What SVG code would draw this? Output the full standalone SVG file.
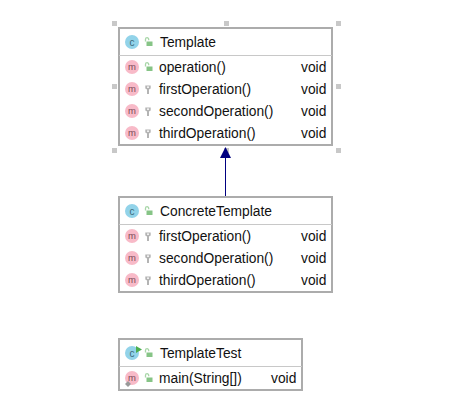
<svg xmlns="http://www.w3.org/2000/svg" width="456" height="412" viewBox="0 0 456 412">
<style>
text{font-family:"Liberation Sans",Arial,sans-serif;font-size:13.8px;fill:#111}
.box{fill:#fff;stroke:#acacac;stroke-width:2}
.sep{stroke:#c8c8c8;stroke-width:1}
.h{fill:#c8c8c8}
.ic{text-anchor:middle}
.cc{fill:#92d3e9}
.mm{fill:#f8bac8}
</style>
<defs>
<g id="lock"><rect x="-1.500" y="-0.500" width="6" height="4.500" fill="#86c486"/><path d="M-2.500 -0.500v-2.200a1.600 1.600 0 0 1 3.200 0v1" fill="none" stroke="#a8d6a8" stroke-width="1.300"/></g>
<g id="key"><path d="M-2.700 -3.500h5.400v3l-1.700 1v4.500h-2v-4.500l-1.700-1z" fill="#b4b4b4"/><rect x="-1" y="-2.500" width="2" height="1.300" fill="#fff"/></g>
<g id="c"><circle r="7" class="cc"/><text class="ic" y="3.500" style="font-size:10px;fill:#3c6a7a">c</text></g>
<g id="m"><circle r="7" class="mm"/><text class="ic" y="3" style="font-size:9.500px;fill:#7a4a55">m</text></g>
</defs>
<g id="handles">
<rect class="h" x="112" y="21" width="5" height="5"/><rect class="h" x="224" y="21" width="5" height="5"/><rect class="h" x="336" y="21" width="5" height="5"/>
<rect class="h" x="112" y="84" width="5" height="5"/><rect class="h" x="336" y="84" width="5" height="5"/>
<rect class="h" x="112" y="148" width="5" height="5"/><rect class="h" x="224" y="148" width="5" height="5"/><rect class="h" x="336" y="148" width="5" height="5"/>
</g>
<g id="connectors">
<path d="M225.500 197V156" stroke="#000080" stroke-width="1" fill="none"/>
<path d="M225.500 147L231 158H220Z" fill="#000080"/>
</g>
<g id="template">
<rect class="box" x="119" y="28" width="213" height="117"/>
<path class="sep" d="M119 55.500H332"/>
<use href="#c" x="132" y="42"/><use href="#lock" x="148" y="42"/><text x="160" y="47">Template</text>
<use href="#m" x="132" y="67"/><use href="#lock" x="148" y="67"/><text x="159" y="72">operation()</text><text x="301" y="72">void</text>
<use href="#m" x="132" y="89"/><use href="#key" x="148" y="89"/><text x="159" y="94">firstOperation()</text><text x="301" y="94">void</text>
<use href="#m" x="132" y="111"/><use href="#key" x="148" y="111"/><text x="159" y="116">secondOperation()</text><text x="301" y="116">void</text>
<use href="#m" x="132" y="133"/><use href="#key" x="148" y="133"/><text x="159" y="138">thirdOperation()</text><text x="301" y="138">void</text>
</g>
<g id="concrete-template">
<rect class="box" x="119" y="197" width="213" height="95"/>
<path class="sep" d="M119 224.500H332"/>
<use href="#c" x="132" y="211"/><use href="#lock" x="148" y="211"/><text x="160" y="216">ConcreteTemplate</text>
<use href="#m" x="132" y="236"/><use href="#key" x="148" y="236"/><text x="159" y="241">firstOperation()</text><text x="301" y="241">void</text>
<use href="#m" x="132" y="258"/><use href="#key" x="148" y="258"/><text x="159" y="263">secondOperation()</text><text x="301" y="263">void</text>
<use href="#m" x="132" y="280"/><use href="#key" x="148" y="280"/><text x="159" y="285">thirdOperation()</text><text x="301" y="285">void</text>
</g>
<g id="template-test">
<rect class="box" x="119" y="339" width="183" height="51"/>
<path class="sep" d="M119 366.500H302"/>
<use href="#c" x="132" y="353"/><path d="M136 346l6 3.500-6 3.500z" fill="#4caf50"/><use href="#lock" x="148" y="353"/><text x="160" y="358">TemplateTest</text>
<use href="#m" x="132" y="378"/><path d="M125 384l3-3 3 3-3 3z" fill="#999"/><use href="#lock" x="148" y="378"/><text x="159" y="383">main(String[])</text><text x="271" y="383">void</text>
</g>
</svg>
